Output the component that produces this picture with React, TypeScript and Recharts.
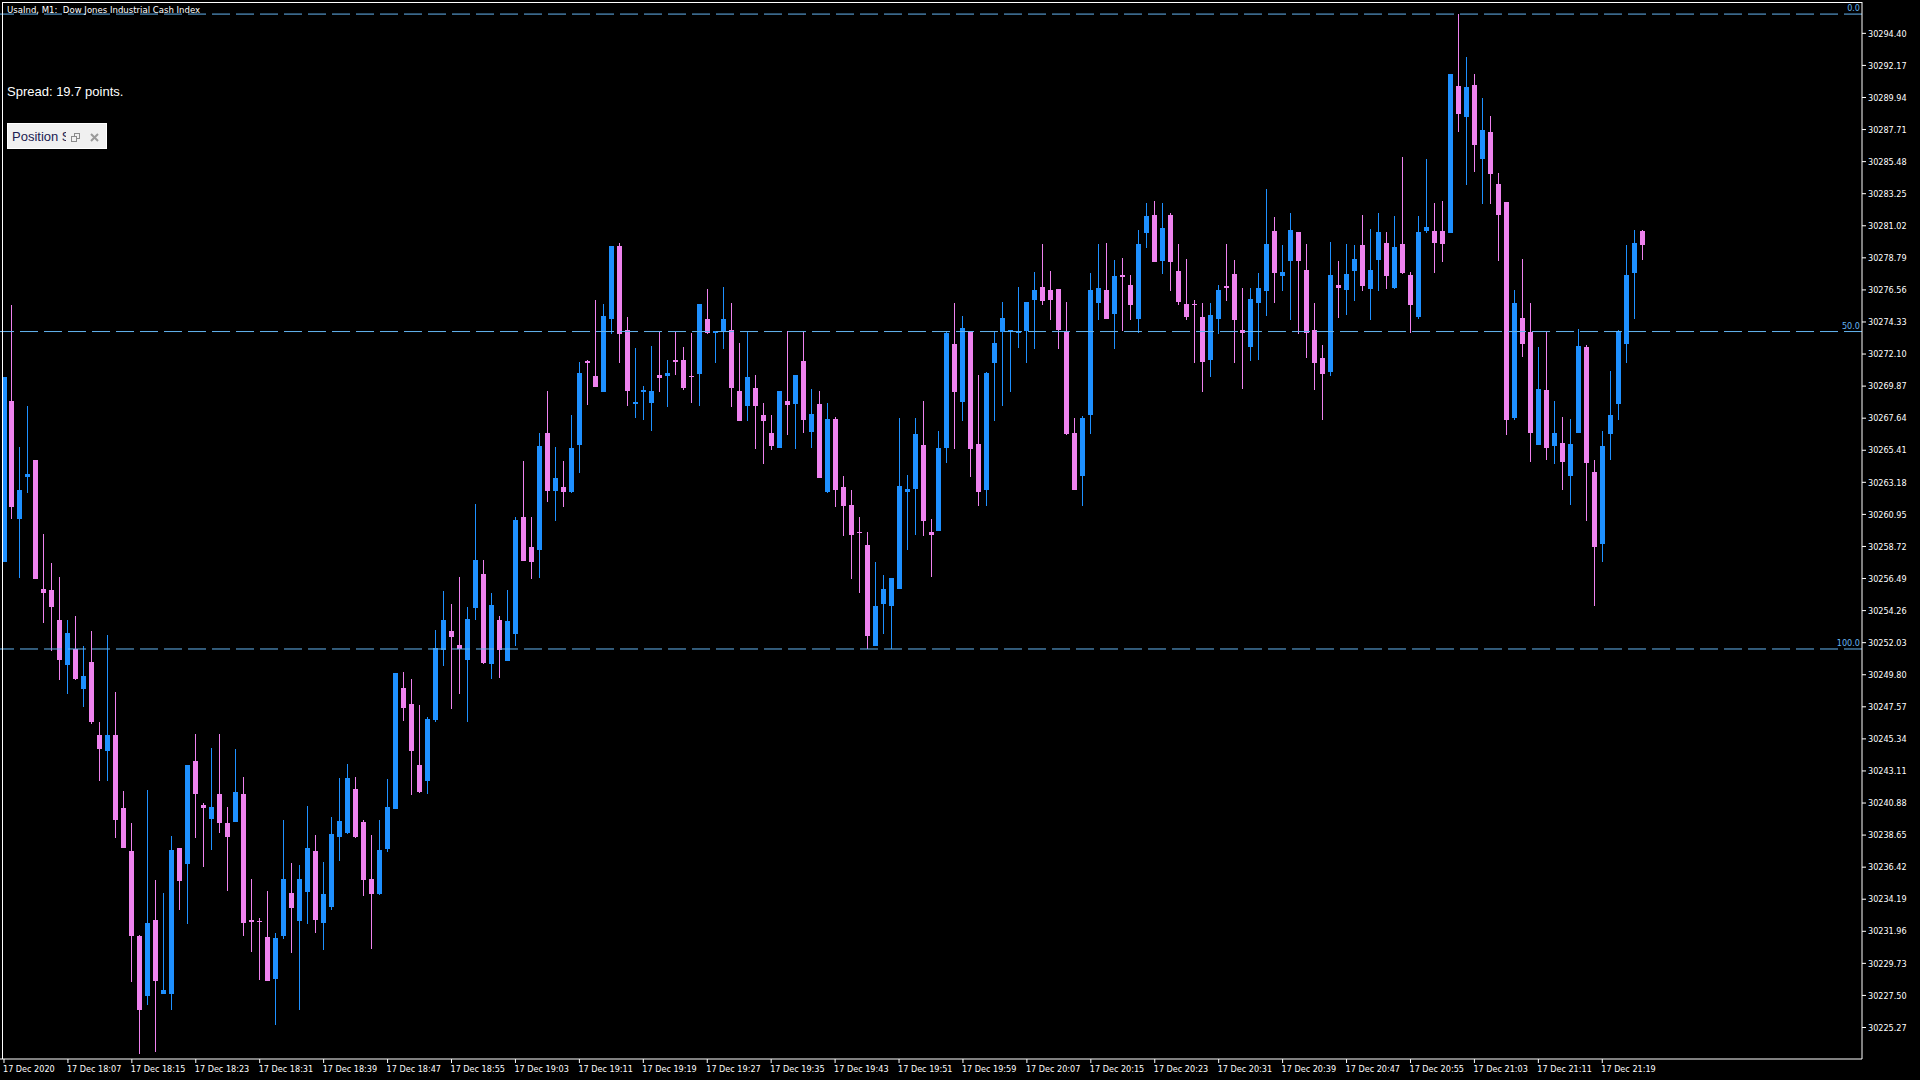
import React from 'react'
import { BarChart, Bar, XAxis, YAxis, ReferenceLine } from 'recharts'

// UsaInd M1 candles, 17 Dec 2020 from 17:59, one entry per minute
const opens = [
  30257.64, 30268.83, 30260.63, 30263.55, 30264.73, 30255.76, 30255.69, 30253.61, 30250.48, 30251.59,
  30248.81, 30250.69, 30245.61, 30244.50, 30245.61, 30240.53, 30237.54, 30231.63, 30227.46, 30232.75,
  30227.60, 30227.60, 30237.75, 30236.64, 30243.80, 30240.74, 30239.77, 30241.51, 30239.49, 30239.56,
  30241.51, 30232.75, 30232.68, 30231.56, 30228.64, 30231.63, 30234.62, 30232.68, 30234.69, 30237.54,
  30232.54, 30233.65, 30238.51, 30238.79, 30241.86, 30239.56, 30235.60, 30234.55, 30237.68, 30240.47,
  30248.88, 30247.77, 30243.52, 30242.41, 30246.65, 30251.52, 30252.84, 30251.87, 30250.83, 30254.44,
  30256.80, 30250.55, 30253.61, 30250.76, 30252.63, 30260.77, 30258.68, 30258.48, 30266.61, 30262.58,
  30262.86, 30262.51, 30265.77, 30271.62, 30270.57, 30269.46, 30274.54, 30279.62, 30273.77, 30268.62,
  30269.46, 30268.69, 30270.64, 30270.57, 30271.69, 30271.69, 30270.57, 30270.71, 30274.54, 30273.56,
  30273.70, 30273.77, 30269.53, 30268.48, 30269.74, 30267.86, 30266.61, 30265.56, 30268.83, 30268.62,
  30271.62, 30266.68, 30268.62, 30262.51, 30267.58, 30262.86, 30261.60, 30259.73, 30258.82, 30251.80,
  30254.72, 30254.58, 30255.76, 30262.51, 30262.72, 30265.77, 30259.73, 30259.80, 30265.56, 30272.80,
  30268.76, 30273.70, 30265.84, 30262.65, 30271.48, 30273.63, 30273.70, 30273.56, 30273.70, 30275.86,
  30276.76, 30276.55, 30276.62, 30273.63, 30266.61, 30263.62, 30267.86, 30275.65, 30276.55, 30274.88,
  30277.59, 30276.90, 30274.54, 30280.52, 30281.77, 30278.57, 30281.77, 30277.87, 30275.58, 30275.58,
  30274.67, 30271.69, 30274.54, 30276.83, 30277.66, 30273.77, 30272.59, 30275.65, 30276.48, 30280.66,
  30277.52, 30278.57, 30280.59, 30277.94, 30273.77, 30271.83, 30270.85, 30276.90, 30276.55, 30277.87,
  30279.69, 30276.62, 30278.64, 30279.83, 30276.69, 30279.76, 30277.59, 30274.67, 30280.66, 30280.66,
  30280.66, 30280.52, 30290.74, 30288.58, 30290.81, 30285.66, 30287.54, 30283.93, 30282.67, 30267.65,
  30274.61, 30273.63, 30265.77, 30269.60, 30265.70, 30265.91, 30263.62, 30266.61, 30272.59, 30263.90,
  30258.89, 30266.54, 30268.62, 30272.80, 30277.73, 30280.66,
]

const highs = [
  30270.50, 30275.51, 30265.63, 30268.48, 30264.73, 30259.59, 30257.57, 30256.59, 30253.61, 30253.88,
  30251.80, 30252.84, 30246.51, 30252.56, 30248.60, 30241.72, 30239.49, 30231.70, 30241.79, 30235.53,
  30234.62, 30238.58, 30237.75, 30243.52, 30245.68, 30240.88, 30244.70, 30245.68, 30240.60, 30244.63,
  30242.69, 30235.60, 30232.89, 30234.76, 30231.84, 30239.70, 30236.71, 30236.57, 30240.67, 30238.65,
  30236.78, 30239.91, 30242.62, 30243.59, 30242.69, 30239.70, 30238.65, 30239.70, 30242.55, 30249.92,
  30249.99, 30249.50, 30247.70, 30246.86, 30252.91, 30255.62, 30254.72, 30256.59, 30254.51, 30261.67,
  30257.78, 30255.48, 30253.88, 30255.69, 30260.77, 30264.66, 30260.77, 30266.61, 30269.53, 30265.63,
  30264.66, 30267.86, 30271.55, 30271.69, 30275.86, 30275.58, 30279.62, 30279.83, 30274.67, 30272.52,
  30269.88, 30272.66, 30273.63, 30271.69, 30273.63, 30272.59, 30273.56, 30275.58, 30276.62, 30273.70,
  30276.76, 30275.65, 30272.87, 30273.70, 30270.64, 30268.69, 30267.86, 30269.53, 30273.70, 30270.64,
  30273.70, 30269.67, 30269.53, 30268.69, 30267.72, 30263.62, 30262.65, 30260.77, 30259.73, 30257.64,
  30256.73, 30256.52, 30267.65, 30263.69, 30267.65, 30268.83, 30260.63, 30266.75, 30273.70, 30275.65,
  30274.74, 30273.70, 30270.64, 30270.85, 30273.70, 30275.72, 30273.77, 30276.76, 30275.72, 30277.80,
  30279.76, 30277.87, 30276.62, 30275.72, 30267.65, 30267.79, 30277.73, 30279.76, 30279.83, 30278.64,
  30278.78, 30277.59, 30280.73, 30282.60, 30282.74, 30282.60, 30281.91, 30279.76, 30278.71, 30275.86,
  30275.65, 30275.65, 30276.90, 30279.76, 30278.64, 30276.69, 30276.69, 30277.73, 30283.58, 30281.63,
  30279.69, 30281.91, 30280.59, 30279.76, 30275.65, 30272.73, 30279.90, 30278.57, 30279.76, 30279.69,
  30281.77, 30280.80, 30281.91, 30280.59, 30281.70, 30285.80, 30277.80, 30281.70, 30285.66, 30282.60,
  30282.74, 30291.57, 30295.74, 30292.76, 30291.57, 30289.90, 30288.65, 30284.69, 30282.67, 30276.55,
  30278.71, 30275.65, 30272.59, 30273.63, 30268.83, 30267.72, 30267.58, 30273.84, 30272.73, 30264.73,
  30266.75, 30270.92, 30273.77, 30279.69, 30280.73, 30280.73,
]

const lows = [
  30257.64, 30260.63, 30256.52, 30262.44, 30256.45, 30253.40, 30251.45, 30249.44, 30248.46, 30249.44,
  30247.55, 30246.37, 30242.41, 30242.41, 30238.44, 30237.75, 30228.43, 30223.43, 30226.83, 30223.57,
  30227.60, 30226.49, 30233.44, 30232.47, 30238.44, 30236.43, 30237.61, 30238.79, 30234.76, 30239.56,
  30231.63, 30230.52, 30228.57, 30228.50, 30225.45, 30231.42, 30230.45, 30226.49, 30232.47, 30231.84,
  30230.66, 30233.44, 30236.85, 30238.72, 30238.44, 30234.41, 30230.73, 30234.48, 30237.47, 30240.47,
  30246.58, 30241.44, 30241.58, 30241.51, 30246.51, 30250.41, 30247.42, 30248.46, 30246.51, 30253.61,
  30250.55, 30249.50, 30249.57, 30250.76, 30251.80, 30257.71, 30256.45, 30256.52, 30261.81, 30260.49,
  30261.46, 30262.44, 30263.83, 30268.55, 30269.81, 30269.46, 30273.49, 30271.48, 30268.48, 30267.65,
  30267.51, 30266.75, 30269.46, 30268.41, 30270.64, 30269.60, 30268.69, 30268.48, 30273.49, 30271.48,
  30272.45, 30268.41, 30267.44, 30267.44, 30265.49, 30264.45, 30265.43, 30265.56, 30266.47, 30265.49,
  30266.61, 30265.56, 30263.48, 30262.44, 30261.46, 30259.45, 30256.45, 30255.48, 30251.59, 30251.80,
  30252.63, 30251.59, 30255.76, 30258.48, 30259.52, 30259.45, 30256.59, 30259.80, 30264.52, 30265.49,
  30267.44, 30263.55, 30261.53, 30261.53, 30267.44, 30268.48, 30269.46, 30272.52, 30271.48, 30272.45,
  30275.51, 30274.47, 30272.45, 30266.47, 30262.65, 30261.53, 30266.54, 30274.47, 30274.54, 30272.45,
  30273.70, 30274.47, 30273.56, 30279.48, 30278.50, 30277.66, 30276.48, 30275.51, 30274.47, 30271.48,
  30269.46, 30270.50, 30273.49, 30275.79, 30271.48, 30269.67, 30271.62, 30271.69, 30274.74, 30275.65,
  30276.48, 30274.47, 30273.49, 30271.83, 30269.60, 30267.51, 30270.57, 30274.61, 30274.81, 30275.79,
  30276.48, 30274.47, 30276.48, 30276.62, 30276.62, 30277.66, 30273.56, 30274.54, 30280.52, 30277.73,
  30278.50, 30280.52, 30287.54, 30283.86, 30284.76, 30282.53, 30282.53, 30278.57, 30266.47, 30267.51,
  30271.90, 30264.59, 30265.77, 30264.73, 30264.45, 30262.65, 30261.60, 30266.61, 30260.49, 30254.58,
  30257.64, 30264.73, 30267.51, 30271.48, 30274.54, 30278.64,
]

const closes = [
  30270.50, 30261.46, 30262.65, 30263.76, 30256.45, 30255.48, 30254.51, 30250.83, 30252.70, 30249.50,
  30249.71, 30246.51, 30244.63, 30245.61, 30239.70, 30237.75, 30231.63, 30226.49, 30232.54, 30228.50,
  30227.88, 30237.61, 30235.46, 30243.52, 30241.51, 30240.53, 30240.60, 30239.49, 30238.51, 30241.65,
  30232.54, 30232.61, 30232.61, 30228.50, 30231.49, 30235.60, 30233.58, 30235.60, 30237.75, 30232.75,
  30234.55, 30238.72, 30239.63, 30242.62, 30238.51, 30235.53, 30234.55, 30237.61, 30240.60, 30249.92,
  30247.49, 30244.50, 30241.65, 30246.72, 30251.66, 30253.61, 30252.42, 30251.59, 30253.68, 30257.78,
  30250.62, 30254.65, 30251.52, 30253.54, 30260.56, 30257.71, 30257.64, 30265.70, 30262.58, 30263.48,
  30262.51, 30265.56, 30270.78, 30271.48, 30269.81, 30274.74, 30279.62, 30273.49, 30269.53, 30268.76,
  30269.60, 30269.53, 30270.43, 30270.78, 30271.55, 30269.74, 30270.50, 30275.58, 30273.56, 30273.70,
  30274.54, 30269.74, 30267.44, 30270.50, 30268.48, 30267.44, 30265.70, 30269.53, 30268.55, 30270.64,
  30267.51, 30267.93, 30263.48, 30267.58, 30262.65, 30261.53, 30259.52, 30259.66, 30252.49, 30254.58,
  30255.76, 30256.52, 30262.93, 30262.72, 30266.54, 30260.49, 30259.52, 30265.56, 30273.56, 30269.46,
  30273.91, 30265.49, 30262.51, 30270.78, 30272.87, 30274.61, 30273.77, 30273.70, 30275.72, 30276.55,
  30275.79, 30275.86, 30273.77, 30266.54, 30262.65, 30267.65, 30276.55, 30276.69, 30274.54, 30277.52,
  30277.45, 30275.51, 30279.76, 30281.70, 30278.50, 30280.87, 30278.50, 30275.72, 30274.67, 30275.51,
  30271.55, 30274.81, 30276.55, 30276.69, 30274.47, 30273.56, 30275.93, 30276.69, 30279.76, 30277.73,
  30277.80, 30280.73, 30278.57, 30273.56, 30271.48, 30270.71, 30277.59, 30276.69, 30277.66, 30278.71,
  30276.83, 30277.94, 30280.59, 30277.52, 30279.55, 30277.73, 30275.51, 30280.59, 30280.94, 30279.83,
  30279.76, 30291.57, 30288.79, 30290.67, 30286.64, 30287.68, 30284.62, 30281.77, 30267.51, 30275.65,
  30272.80, 30266.61, 30269.67, 30265.56, 30266.61, 30264.59, 30265.84, 30272.66, 30264.52, 30258.68,
  30265.70, 30267.86, 30273.70, 30277.59, 30279.83, 30279.69,
]

const priceTicks = [
  30294.40, 30292.17, 30289.94, 30287.71, 30285.48, 30283.25, 30281.02, 30278.79,
  30276.56, 30274.33, 30272.10, 30269.87, 30267.64, 30265.41, 30263.18, 30260.95,
  30258.72, 30256.49, 30254.26, 30252.03, 30249.80, 30247.57, 30245.34, 30243.11,
  30240.88, 30238.65, 30236.42, 30234.19, 30231.96, 30229.73, 30227.50, 30225.27,
]

const timeLabels = [
  '17 Dec 2020', '17 Dec 18:07', '17 Dec 18:15', '17 Dec 18:23', '17 Dec 18:31', '17 Dec 18:39',
  '17 Dec 18:47', '17 Dec 18:55', '17 Dec 19:03', '17 Dec 19:11', '17 Dec 19:19', '17 Dec 19:27',
  '17 Dec 19:35', '17 Dec 19:43', '17 Dec 19:51', '17 Dec 19:59', '17 Dec 20:07', '17 Dec 20:15',
  '17 Dec 20:23', '17 Dec 20:31', '17 Dec 20:39', '17 Dec 20:47', '17 Dec 20:55', '17 Dec 21:03',
  '17 Dec 21:11', '17 Dec 21:19',
]

const BULL = '#1e90ff'
const BEAR = '#ee82ee'
const FIBO = '#64b4f0'
const AXIS_FONT = "'DejaVu Sans Condensed', 'Liberation Sans Narrow', sans-serif"

const SLOTS = 233 // bar slots on screen, the empty ones are the chart shift on the right
const BARS_PER_LABEL = 8
const FIB_LOW_BAR = 108
const FIB_HIGH_BAR = 182

const candles = Array.from({ length: SLOTS }, (_, i) =>
  i < opens.length
    ? { i, o: opens[i], h: highs[i], l: lows[i], c: closes[i], range: [lows[i], highs[i]] }
    : { i, range: null }
)

const fibHigh = highs[FIB_HIGH_BAR]
const fibLow = lows[FIB_LOW_BAR]
const fibLevels = [
  { label: '0.0', price: fibHigh },
  { label: '50.0', price: (fibHigh + fibLow) / 2 },
  { label: '100.0', price: fibLow },
]

const Candle = (props: any) => {
  const { x, y, width, height, payload } = props
  if (!payload || payload.o == null) return null
  const top = Math.min(y, y + height)
  const span = Math.abs(height)
  const k = span / (payload.h - payload.l)
  const color = payload.c >= payload.o ? BULL : BEAR
  const cx = Math.floor(x + width / 2) + 0.5
  const bodyTop = top + (payload.h - Math.max(payload.o, payload.c)) * k
  const bodyH = Math.max(1, Math.abs(payload.c - payload.o) * k)
  return (
    <g>
      <line x1={cx} x2={cx} y1={top} y2={top + span} stroke={color} strokeWidth={1} shapeRendering="crispEdges" />
      <rect x={cx - 2.5} y={bodyTop} width={5} height={bodyH} fill={color} shapeRendering="crispEdges" />
    </g>
  )
}

const TimeTick = ({ x, y, payload }: any) => (
  <text x={x - 1} y={y + 7} fill="#fff" fontSize={9} fontFamily={AXIS_FONT} textAnchor="start">
    {timeLabels[payload.value / BARS_PER_LABEL]}
  </text>
)

const FibLabel = ({ viewBox, text }: any) =>
  viewBox ? (
    <text x={viewBox.x + viewBox.width - 2} y={viewBox.y - 3} fill={FIBO} fontSize={9} fontFamily={AXIS_FONT} textAnchor="end">
      {text}
    </text>
  ) : null

const App = () => {
  return (
    <div style={{ position: 'relative', width: 1920, height: 1080, background: '#000', overflow: 'hidden' }}>
      <style>{'body{margin:0;background:#000}'}</style>
      <BarChart
        width={1920}
        height={1080}
        data={candles}
        margin={{ top: 2, right: 0, bottom: 0, left: 0 }}
        barCategoryGap={0}
        style={{ background: '#000' }}
      >
        <XAxis
          dataKey="i"
          type="category"
          ticks={timeLabels.map((_, j) => j * BARS_PER_LABEL)}
          interval={0}
          height={21}
          tickSize={4}
          tickMargin={2}
          axisLine={{ stroke: '#fff' }}
          tickLine={{ stroke: '#fff' }}
          tick={<TimeTick />}
        />
        <YAxis
          orientation="right"
          type="number"
          domain={[30223.08, 30296.58]}
          allowDataOverflow
          ticks={priceTicks}
          interval={0}
          width={58}
          tickSize={4}
          tickMargin={2}
          axisLine={{ stroke: '#fff' }}
          tickLine={{ stroke: '#fff' }}
          tick={{ fill: '#fff', fontSize: 9, fontFamily: AXIS_FONT }}
          tickFormatter={(v: number) => v.toFixed(2)}
        />
        <Bar dataKey="range" shape={<Candle />} isAnimationActive={false} />
        {fibLevels.map((lv) => (
          <ReferenceLine
            key={lv.label}
            y={lv.price}
            stroke={FIBO}
            strokeDasharray="18 6"
            label={<FibLabel text={lv.label} />}
          />
        ))}
      </BarChart>
      <svg width={1920} height={1080} style={{ position: 'absolute', left: 0, top: 0, pointerEvents: 'none' }}>
        <line x1={2.5} x2={2.5} y1={2} y2={1059} stroke="#fff" />
        <line x1={2} x2={1862} y1={2.5} y2={2.5} stroke="#fff" />
        <text x={7} y={12.5} fill="#fff" fontSize={9.5} fontFamily={AXIS_FONT} xmlSpace="preserve" style={{ whiteSpace: 'pre' }}>
          {'UsaInd, M1:  Dow Jones Industrial Cash Index'}
        </text>
        <text x={7} y={96} fill="#fff" fontSize={13} fontFamily="'Liberation Sans', Arial, sans-serif">
          Spread: 19.7 points.
        </text>
        <defs>
          <clipPath id="posClip">
            <rect x={7} y={123} width={59} height={26} />
          </clipPath>
        </defs>
        <rect x={7.5} y={123.5} width={99} height={25} fill="#f0f0f0" stroke="#ffffff" />
        <text x={12} y={141} fill="#202050" fontSize={13} fontFamily="'Liberation Sans', Arial, sans-serif" clipPath="url(#posClip)">
          Position Size
        </text>
        <rect x={74.5} y={133.5} width={5} height={5} fill="none" stroke="#8a8a8a" />
        <rect x={71.5} y={136.5} width={5} height={5} fill="#f0f0f0" stroke="#8a8a8a" />
        <path d="M91 134 L98 141 M98 134 L91 141" stroke="#9a9a9a" strokeWidth={2} />
      </svg>
    </div>
  )
}

export default App
